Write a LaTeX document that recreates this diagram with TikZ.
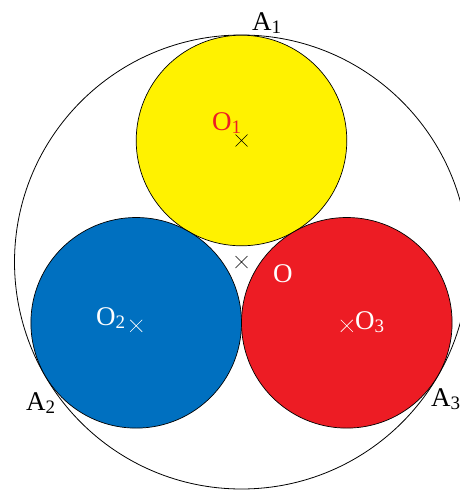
\documentclass[tikz,border=0pt]{standalone}
\usepackage{fontspec}
\setmainfont{Liberation Serif}
\usetikzlibrary{calc}
\definecolor{cyel}{RGB}{255,242,0}
\definecolor{cblue}{RGB}{0,112,192}
\definecolor{cred}{RGB}{237,28,36}
\newcommand{\lowsub}[1]{\raisebox{-0.14em}{\fontsize{19}{19}\selectfont #1}}
\begin{document}
\begin{tikzpicture}[x=1pt,y=-1pt,
  disc/.style={draw=black,line width=0.7pt},
  cross/.style={line width=0.6pt},
  lab/.style={inner sep=0pt,anchor=base west,font=\fontsize{27}{27}\selectfont}]
\useasboundingbox (0,0) rectangle (459,490);
\coordinate (O) at (241.5,262);
\coordinate (O1) at (241.5,140.5);
\coordinate (O2) at (136.2,322.8);
\coordinate (O3) at (346.8,322.8);
\draw[line width=0.8pt] (O) circle[radius=227];
\fill[cyel,disc] (O1) circle[radius=105.3];
\fill[cblue,disc] (O2) circle[radius=105.3];
\fill[cred,disc] (O3) circle[radius=105.3];
% crosses
\draw[cross,black] ($(O1)+(-6,-6)$) -- ($(O1)+(6,6)$) ($(O1)+(-6,6)$) -- ($(O1)+(6,-6)$);
\draw[cross,black] ($(O)+(-6,-6)$) -- ($(O)+(6,6)$) ($(O)+(-6,6)$) -- ($(O)+(6,-6)$);
\draw[cross,white] ($(O2)+(-6,-6)+(0,3)$) -- ($(O2)+(6,6)+(0,3)$) ($(O2)+(-6,6)+(0,3)$) -- ($(O2)+(6,-6)+(0,3)$);
\draw[cross,white] ($(O3)+(-6,-6)+(0,3)$) -- ($(O3)+(6,6)+(0,3)$) ($(O3)+(-6,6)+(0,3)$) -- ($(O3)+(6,-6)+(0,3)$);
% labels
\node[lab,text=cred] (lO1) at (212,130) {O\lowsub{1}};
\node[lab,text=white] (lO) at (273,282) {O};
\node[lab,text=white] (lO2) at (96,325) {O\lowsub{2}};
\node[lab,text=white] (lO3) at (355,329) {O\lowsub{3}};
\node[lab,text=black] (lA1) at (252,30) {A\lowsub{1}};
\node[lab,text=black] (lA2) at (26,410) {A\lowsub{2}};
\node[lab,text=black] (lA3) at (431,406) {A\lowsub{3}};
\end{tikzpicture}
\end{document}
